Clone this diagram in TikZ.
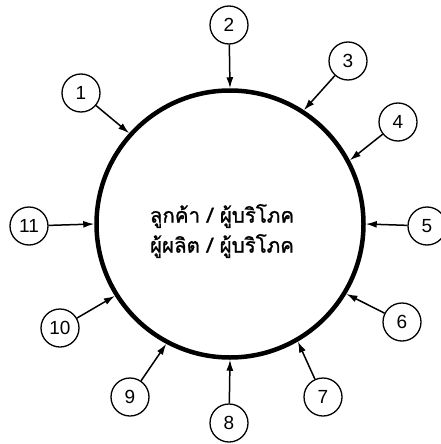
\documentclass[tikz,border=0pt]{standalone}
\usepackage{fontspec}
\setmainfont{Liberation Sans}
\newfontfamily\thaifont[Script=Thai, FakeBold=1.2]{Loma}
\usetikzlibrary{arrows.meta, positioning}

\begin{document}
\begin{tikzpicture}[x=1pt, y=-1pt,
      num/.style={circle, draw, line width=1.3pt, minimum size=38pt, inner sep=0pt, font=\fontsize{19}{19}\selectfont},
      ring/.style={circle, draw, line width=4.5pt, minimum size=267pt, inner sep=0pt},
      edge/.style={-{Latex[length=11pt, width=7pt]}, line width=1.5pt}
    ]
    \useasboundingbox (0,0) rectangle (441,444);
    \node[ring] (C) at (230,224) {};
    \node[font=\thaifont\fontsize{20.5}{30}\selectfont, align=center] (T) at (222,231) {ลูกค้า / ผู้บริโภค\\ผู้ผลิต / ผู้บริโภค};
    \node[num] (n1) at (81,93) {1};
    \node[num] (n2) at (229,25) {2};
    \node[num] (n3) at (348,61) {3};
    \node[num] (n4) at (398,122) {4};
    \node[num] (n5) at (427,226) {5};
    \node[num] (n6) at (402,322) {6};
    \node[num] (n7) at (323,397) {7};
    \node[num] (n8) at (229,423) {8};
    \node[num] (n9) at (130,397) {9};
    \node[num] (n10) at (60,328) {10};
    \node[num] (n11) at (29,226) {11};
    \draw[edge] (n1) -- (C.138);
    \draw[edge] (n2) -- (C.90);
    \draw[edge] (n3) -- (C.57);
    \draw[edge] (n4) -- (C.28);
    \draw[edge] (n5) -- (C.0);
    \draw[edge] (n6) -- (C.-31);
    \draw[edge] (n7) -- (C.-60);
    \draw[edge] (n8) -- (C.-90);
    \draw[edge] (n9) -- (C.-118);
    \draw[edge] (n10) -- (C.-148);
    \draw[edge] (n11) -- (C.180);
\end{tikzpicture}
\end{document}
